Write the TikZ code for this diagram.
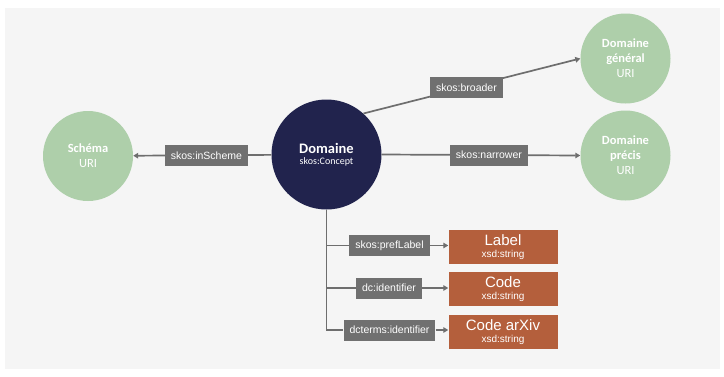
\documentclass[tikz,border=0pt]{standalone}
\usepackage{fontspec}
\setmainfont{Liberation Sans}
\newfontfamily\carlito{Carlito}
\usetikzlibrary{arrows.meta}
\definecolor{bgcol}{HTML}{F5F5F5}
\definecolor{navy}{HTML}{21234D}
\definecolor{sage}{HTML}{AECFAA}
\definecolor{boxgray}{HTML}{707070}
\definecolor{linegray}{HTML}{6E6E6E}
\definecolor{rust}{HTML}{B45F3C}
\begin{document}
\begin{tikzpicture}[x=1pt,y=-1pt,
  concept/.style={circle,fill=navy,text=white,inner sep=0pt,minimum size=110pt,align=center},
  uri/.style={circle,fill=sage,text=white,inner sep=0pt,minimum size=90pt,align=center,
    font=\carlito\fontsize{12.5}{15}\selectfont},
  lbl/.style={fill=boxgray,text=white,inner xsep=6pt,inner ysep=0pt,minimum height=21pt,
    font=\fontsize{10.5}{12}\selectfont},
  lit/.style={fill=rust,text=white,inner sep=0pt,minimum width=109pt,minimum height=34pt,align=center},
  conn/.style={draw=linegray,line width=1.7pt},
  arr/.style={conn,-{Triangle[length=5pt,width=5.5pt]}}
]
\useasboundingbox (0,0) rectangle (724,376);
\fill[white] (0,0) rectangle (724,376);
\fill[bgcol] (5,8) rectangle (720,369);

% nodes
\node[concept] (dom) at (326.5,154.5)
  {{\carlito\fontsize{14.5}{15}\selectfont\bfseries Domaine}\\[-1pt]{\carlito\fontsize{10}{12}\selectfont skos:Concept}};
\node[uri] (sch) at (88,156) {\bfseries Schéma\\URI};
\node[uri] (gen) at (625.5,58.5) {\bfseries Domaine\\\bfseries général\\URI};
\node[uri] (pre) at (625.5,155.5) {\bfseries Domaine\\\bfseries précis\\URI};

\node[lit] (lab) at (503,247)
  {{\fontsize{15}{16}\selectfont Label}\\{\fontsize{10}{12}\selectfont xsd:string}};
\node[lit] (cod) at (503,289)
  {{\fontsize{15}{16}\selectfont Code}\\{\fontsize{10}{12}\selectfont xsd:string}};
\node[lit] (arx) at (503,332)
  {{\fontsize{15}{16}\selectfont Code arXiv}\\{\fontsize{10}{12}\selectfont xsd:string}};

\node[lbl] (pref) at (389.5,245.5) {skos:prefLabel};
\node[lbl] (dcid) at (389,288) {dc:identifier};
\node[lbl] (dcti) at (389.5,330) {dcterms:identifier};

% connectors
\draw[arr] (dom) -- node[lbl,pos=0.47] {skos:inScheme} (sch);
\draw[arr] (dom.48) -- node[lbl,pos=0.475] {skos:broader} (gen.west);
\draw[arr] (dom.east) -- node[lbl,pos=0.54] {skos:narrower} (pre.west);

\draw[conn] (dom.south) |- (dcti.west);
\draw[conn] (dom.south |- pref.west) -- (pref.west);
\draw[conn] (dom.south |- dcid.west) -- (dcid.west);
\draw[arr] (pref.east) -- (pref.east -| lab.west);
\draw[arr] (dcid.east) -- (dcid.east -| cod.west);
\draw[arr] (dcti.east) -- (dcti.east -| arx.west);
\end{tikzpicture}
\end{document}
